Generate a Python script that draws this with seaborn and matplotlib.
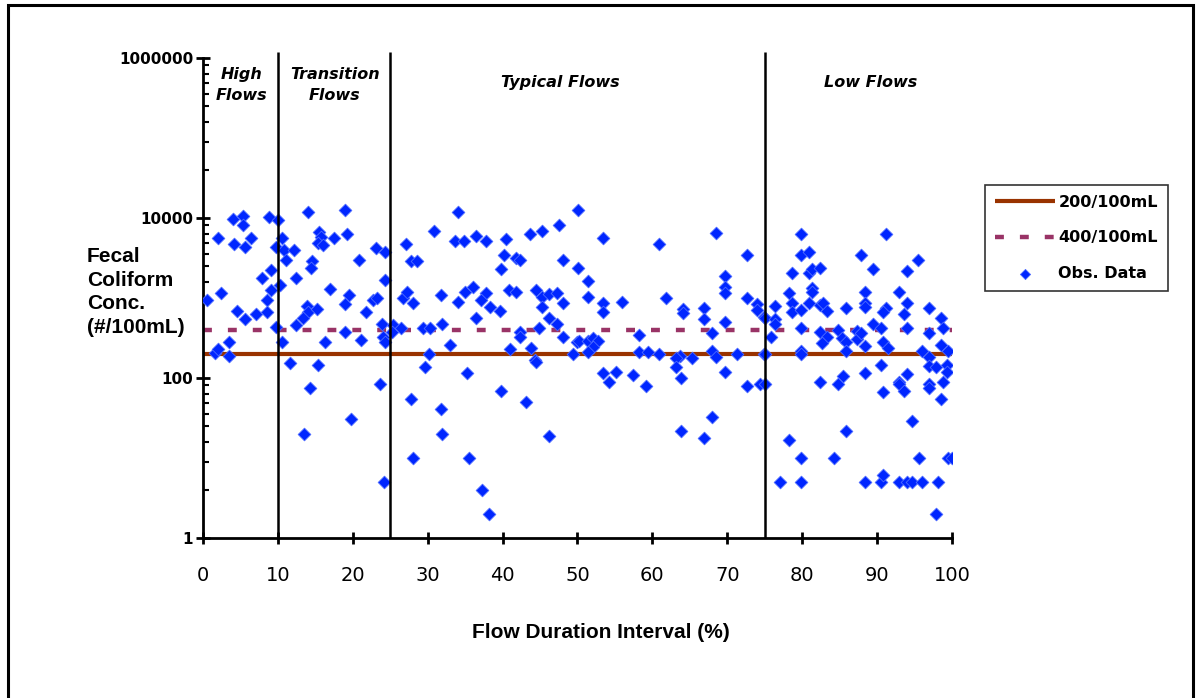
import numpy as np
import pandas as pd
import matplotlib
matplotlib.use("Agg")
import matplotlib.pyplot as plt
import matplotlib.ticker as mticker
import matplotlib.patches as mpatches
import seaborn as sns

# ---------------- data ----------------
flow_pct = [
    4.05, 5.3, 5.3, 8.8, 9.97, 14.06, 18.96, 2.05, 6.4, 4.1, 5.6, 10.5, 9.75, 10.86, 12.2,
    15.5, 15.75, 15.4, 16.0, 17.45, 19.2, 23.1, 24.3, 11.04, 14.6, 14.4, 20.8, 7.83, 9.03,
    12.4, 9.03, 10.3, 16.9, 24.3, 0.53, 2.4, 8.5, 19.5, 18.96, 22.7, 23.2, 4.6, 5.6, 7.1,
    8.6, 13.85, 14.06, 13.4, 15.2, 21.8, 23.9, 9.7, 12.4, 18.96, 3.5, 10.5, 16.3, 21.05,
    24.1, 24.3, 1.6, 2.05, 3.5,
    11.6, 15.4, 14.3, 23.7, 19.7, 13.5, 24.2,
    34.0, 30.8, 27.1, 27.8, 28.6, 33.6, 34.8, 36.4, 37.8, 40.4, 40.2, 41.75, 42.3, 39.8,
    43.6, 45.3, 47.5, 50.1, 48.1, 50.1, 26.7, 27.3, 28.1, 31.8, 34.0, 35.0, 36.1, 37.8,
    37.1, 38.3, 39.65, 40.9, 41.8, 44.4, 45.2, 46.2, 47.2, 48.1, 45.3, 36.4, 46.2, 47.2,
    31.95, 25.4, 25.2, 26.4, 29.4, 30.3, 42.3, 42.3, 44.9, 48.1, 33.0, 41.0, 43.75, 30.2,
    50.0, 44.3,
    49.4, 29.6, 35.3, 44.4, 39.8, 43.1, 27.8, 31.8, 31.95, 46.2, 28.0, 35.5, 37.3, 38.2,
    53.4, 60.9, 68.45, 72.6, 51.4, 51.4, 53.4, 53.4, 56.0, 61.8, 64.1, 64.1, 66.9, 66.9,
    69.7, 69.7, 69.7, 72.6, 73.9, 73.9, 74.9, 69.7, 50.2, 51.4, 52.1, 52.7, 52.1, 51.4,
    58.25, 67.9, 58.25, 59.45, 60.9, 63.7, 63.15, 65.25, 67.9, 68.45, 71.25, 74.9,
    53.4, 55.2, 54.2, 57.4, 59.2, 63.15, 63.8, 69.7, 72.6, 74.4, 67.9, 63.8, 66.9,
    79.9, 91.2, 79.9, 80.9, 87.85, 95.5, 78.6, 80.9, 81.3, 82.4, 89.4, 93.95, 81.3, 81.3,
    78.2, 88.4, 92.9, 78.6, 78.6, 76.4, 79.9, 80.9, 82.4, 82.8, 83.3, 85.8, 88.4, 88.4,
    91.2, 90.75, 94.0, 93.6, 96.9, 98.5, 75.0, 76.4, 76.4, 89.4, 90.5, 94.0, 98.8, 79.9,
    75.9, 82.4, 83.3, 82.7, 84.8, 85.3, 85.8, 87.3, 87.3, 87.85, 88.4, 90.8, 91.5, 96.9,
    98.5, 96.0, 99.5, 96.9, 75.0, 79.9, 79.9, 85.8,
    96.9, 97.8, 99.3, 99.3, 90.5, 88.4, 85.4, 84.8, 82.4, 75.0, 90.8, 92.9, 92.9, 94.0,
    93.6, 96.9, 96.9, 98.8, 98.5, 94.6, 85.8, 78.2, 79.9, 84.2, 95.6, 99.5, 99.96, 77.1,
    79.9, 88.4, 90.5, 90.8, 92.9, 94.0, 94.6, 96.0, 98.1, 97.8,
]
fecal_conc = [
    9600, 10600, 8200, 10300, 9500, 12000, 12600, 5700, 5700, 4700, 4300, 5700, 4400, 4000, 3950,
    6700, 5850, 4900, 4600, 5700, 6300, 4200, 3750, 3000, 2870, 2350, 3000, 1800, 2250,
    1800, 1250, 1450, 1300, 1700, 945, 1140, 935, 1090, 830, 945, 1000, 695, 545, 630,
    660, 790, 675, 555, 720, 660, 478, 435, 455, 380, 285, 285, 285, 300,
    330, 280, 203, 230, 188,
    152, 145, 76, 83, 31, 20, 5,
    12000, 6900, 4700, 2870, 2870, 5200, 5200, 5960, 5200, 5450, 3450, 3180, 2990, 2280,
    6280, 6900, 8200, 12600, 2990, 2400, 990, 1200, 870, 1090, 890, 1200, 1380, 1140,
    945, 780, 690, 1260, 1200, 1260, 1040, 1110, 1140, 870, 780, 565, 565, 473,
    473, 458, 380, 427, 418, 427, 380, 323, 418, 323, 258, 230, 240, 200,
    285, 168,
    200, 138, 114, 157, 69, 50, 55, 41, 19.8, 19, 10, 10, 4, 2,
    5700, 4700, 6560, 3450, 1620, 1040, 870, 660, 890, 990, 720, 645, 755, 545,
    1900, 1380, 1140, 990, 830, 710, 575, 495, 290, 290, 318, 290, 245, 210,
    345, 362, 213, 213, 200, 190, 176, 176, 218, 184, 200, 200,
    114, 120, 90, 109, 79, 138, 99, 120, 79, 83, 33, 22, 18,
    6280, 6280, 3450, 3720, 3450, 2990, 2080, 2080, 2300, 2400, 2280, 2170, 1320, 1200,
    1140, 1200, 1200, 870, 675, 790, 710, 860, 820, 860, 690, 745, 860, 780,
    755, 660, 860, 625, 745, 565, 565, 545, 468, 473, 427, 418, 427, 418,
    323, 372, 330, 271, 400, 313, 285, 387, 307, 362, 253, 285, 235, 362,
    262, 219, 219, 184, 200, 219, 200, 219,
    142, 138, 145, 118, 145, 114, 106, 84, 90, 83, 66, 90, 83, 112,
    69, 83, 76, 88, 55, 29, 22, 17, 10, 10, 10, 10, 10, 5,
    5, 5, 5, 6.1, 5, 5, 5, 5, 5, 2,
]

line_x = [0, 100]
std_200 = [200, 200]
std_400 = [400, 400]

zone_breaks = [10, 25, 75]
zone_labels = ["High\nFlows", "Transition\nFlows", "Typical Flows", "Low Flows"]
zone_label_x = [5.2, 17.6, 47.7, 89.2]
zone_label_y = [4.6e5, 4.6e5, 4.9e5, 4.9e5]

x_ticks = list(range(0, 101, 10))
y_major = [1, 100, 10000, 1000000]
y_tick_labels = ["1", "100", "10000", "1000000"]

df = pd.DataFrame({"flow": flow_pct, "conc": fecal_conc})

# ---------------- figure ----------------
sns.set_theme(style="white")
plt.rcParams["font.family"] = ["DejaVu Sans"]
plt.rcParams["text.color"] = "black"
plt.rcParams["xtick.color"] = "black"
plt.rcParams["ytick.color"] = "black"
plt.rcParams["axes.labelcolor"] = "black"
plt.rcParams["legend.labelcolor"] = "black"

fig = plt.figure(figsize=(11.96, 6.98), dpi=100)
ax = fig.add_axes([0.1697, 0.2292, 0.6263, 0.6877])

ax.plot(line_x, std_200, color="#993300", lw=3.0, solid_capstyle="butt",
        label="200/100mL", zorder=2)
ax.plot(line_x, std_400, color="#993366", lw=3.2, dashes=(2.0, 3.6),
        dash_capstyle="butt", label="400/100mL", zorder=2)
sns.scatterplot(data=df, x="flow", y="conc", ax=ax, marker="D", s=42,
                color="#0026FF", edgecolor="#4D6BFF", linewidth=0.6,
                label="Obs. Data", zorder=3)

ax.set_yscale("log")
ax.set_xlim(0, 100)
ax.set_ylim(1, 1e6)

ax.vlines(zone_breaks, 1, 1.2e6, colors="black", lw=1.8, clip_on=False, zorder=4)

for lab, lx, ly in zip(zone_labels, zone_label_x, zone_label_y):
    ax.text(lx, ly, lab, ha="center", va="center", fontsize=11.5, color="black",
            fontweight="bold", fontstyle="italic", linespacing=1.45, clip_on=False)

ax.yaxis.set_major_locator(mticker.FixedLocator(y_major))
ax.yaxis.set_major_formatter(mticker.FixedFormatter(y_tick_labels))
minor = [m * k * k for m in [1, 100, 10000] for k in range(2, 10)]
ax.yaxis.set_minor_locator(mticker.FixedLocator(minor))
ax.yaxis.set_minor_formatter(mticker.NullFormatter())
ax.set_xticks(x_ticks)
ax.set_xticklabels([str(t) for t in x_ticks])

ax.tick_params(axis="y", which="major", direction="inout", length=10, width=2,
               color="black", labelcolor="black", labelsize=11, pad=2, left=True)
ax.tick_params(axis="y", which="minor", direction="in", length=4, width=1.5,
               color="black", left=True)
ax.tick_params(axis="x", which="major", direction="inout", length=9, width=2,
               color="black", labelcolor="black", labelsize=14, pad=16, bottom=True)
for t in ax.get_yticklabels():
    t.set_fontweight("bold")

for side in ["top", "right"]:
    ax.spines[side].set_visible(False)
for side in ["left", "bottom"]:
    ax.spines[side].set_color("black")
    ax.spines[side].set_linewidth(2)

ax.set_xlabel("")
ax.set_ylabel("")
ax.grid(False)

fig.text(601 / 1196, 1 - 632 / 698, "Flow Duration Interval (%)", ha="center",
         va="center", fontsize=15, fontweight="bold", family="Liberation Sans",
         color="black")
fig.text(87 / 1196, 1 - 292 / 698, "Fecal\nColiform\nConc.\n(#/100mL)", ha="left",
         va="center", fontsize=15, fontweight="bold", family="Liberation Sans",
         linespacing=1.3, color="black")

handles, labels = ax.get_legend_handles_labels()
if ax.get_legend() is not None:
    ax.get_legend().remove()
leg = fig.legend(handles, labels, loc="upper left",
                 bbox_to_anchor=(985 / 1196, 1 - 185 / 698),
                 frameon=True, fancybox=False, edgecolor="black",
                 prop={"weight": "bold", "size": 11.5},
                 handlelength=3.8, handletextpad=0.2, labelspacing=1.3,
                 borderpad=0.6, borderaxespad=0.0, markerscale=0.8)
leg.get_frame().set_linewidth(1.2)
for t in leg.get_texts():
    t.set_color("black")

border = mpatches.Rectangle((8 / 1196, -0.05), (1193 - 8) / 1196, 1.05 - 5 / 698,
                            transform=fig.transFigure, fill=False,
                            edgecolor="black", lw=2.2)
fig.patches.append(border)

fig.savefig("out.png", dpi=100, facecolor="white")
